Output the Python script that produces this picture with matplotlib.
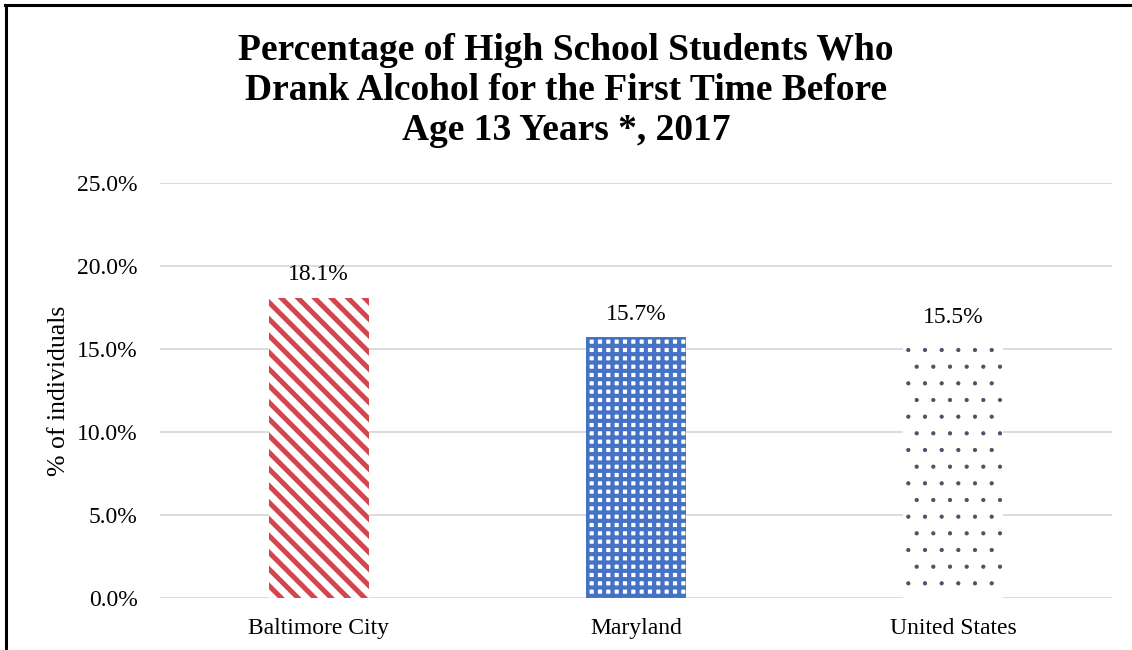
import matplotlib
matplotlib.use("Agg")
import matplotlib.pyplot as plt
from matplotlib.lines import Line2D

categories = ["Baltimore City", "Maryland", "United States"]
values = [18.1, 15.7, 15.5]
yticks = [0, 5, 10, 15, 20, 25]
title = "Percentage of High School Students Who\nDrank Alcohol for the First Time Before\nAge 13 Years *, 2017"

plt.rcParams['font.family'] = ['Liberation Serif', 'DejaVu Serif']

fig = plt.figure(figsize=(11.32, 6.5), dpi=100)
ax = fig.add_axes([0.1413, 0.08, 0.841, 0.6385])

styles = [
    dict(facecolor="white", edgecolor="#D2464F", hatch="\\\\", hlw=3.6),
    dict(facecolor="white", edgecolor="#4472C4", hatch="++", hlw=3.0),
    dict(facecolor="white", edgecolor="#44546A", hatch=".", hlw=0.6),
]
x = list(range(len(categories)))
for i, (c, v) in enumerate(zip(categories, values)):
    st = styles[i]
    plt.rcParams['hatch.linewidth'] = st["hlw"]
    bars = ax.bar(i, v, width=0.315, facecolor=st["facecolor"], edgecolor=st["edgecolor"],
                  hatch=st["hatch"], linewidth=0, zorder=2)
    for b in bars:
        try:
            b.set_hatch_linewidth(st["hlw"])
        except Exception:
            pass
    ax.text(i, v + 0.75, f"{v:.1f}%", ha="center", va="bottom", fontsize=17)

ax.set_xlim(-0.5, 2.5)
ax.set_ylim(0, 25)
ax.set_yticks(yticks)
ax.set_yticklabels([f"{t:.1f}%" for t in yticks], fontsize=17)
ax.set_xticks(x)
ax.set_xticklabels(categories, fontsize=17)
ax.tick_params(axis='y', length=0, pad=16)
ax.tick_params(axis='x', length=0, pad=14.5)
ax.grid(axis='y', color="#D9D9D9", linewidth=1.3, zorder=0)
for s in ax.spines.values():
    s.set_visible(False)
ax.set_ylabel("% of individuals", fontsize=18.5, labelpad=5)

fig.text(0.5, 0.95, title, ha="center", va="top", fontsize=27, fontweight="bold", linespacing=1.19)

fig.add_artist(Line2D([0.0053, 0.0053], [0.0, 0.9923], transform=fig.transFigure, color="black", linewidth=2.2))
fig.add_artist(Line2D([0.0044, 1.0], [0.9923, 0.9923], transform=fig.transFigure, color="black", linewidth=2.2))

fig.savefig("out.png", dpi=100)
